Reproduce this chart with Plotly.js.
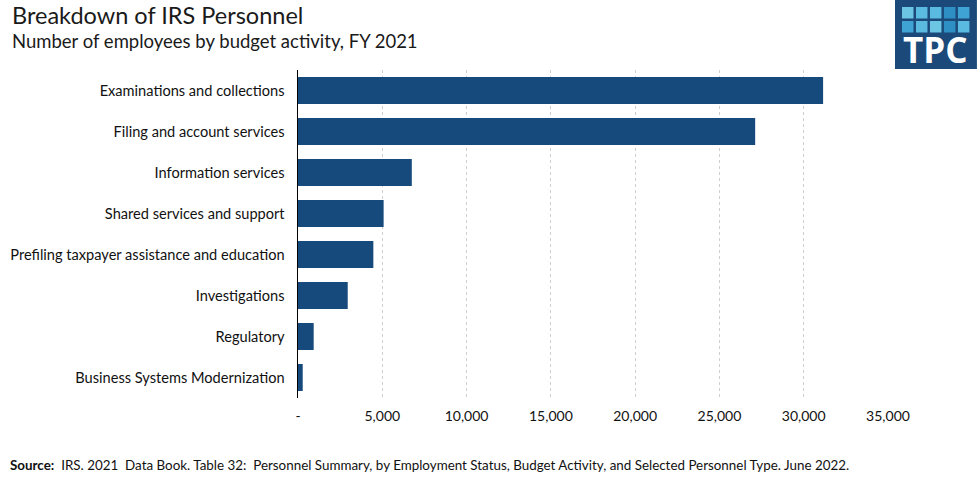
<!DOCTYPE html>
<html>
<head>
<meta charset="utf-8">
<script src="https://cdn.plot.ly/plotly-3.0.1.min.js"></script>
<style>
html,body{margin:0;padding:0;background:#fff;}
#chart{width:977px;height:480px;}
</style>
</head>
<body>
<div id="chart"></div>
<script>
// Data
var categories = [
  "Examinations and collections",
  "Filing and account services",
  "Information services",
  "Shared services and support",
  "Prefiling taxpayer assistance and education",
  "Investigations",
  "Regulatory",
  "Business Systems Modernization"
];
var employees = [31150, 27120, 6750, 5080, 4470, 2950, 930, 280];
var tickValues = [0, 5000, 10000, 15000, 20000, 25000, 30000, 35000];
var tickLabels = ["-", "5,000", "10,000", "15,000", "20,000", "25,000", "30,000", "35,000"];

var W = 977, H = 480;
var M = {l: 297.5, r: 89, t: 70, b: 82};
var PW = W - M.l - M.r, PH = H - M.t - M.b;
function px(x){ return (x - M.l) / PW; }
function py(y){ return 1 - (y - M.t) / PH; }

var font = "Lato, 'Open Sans', sans-serif";

var trace = {
  type: "bar",
  orientation: "h",
  y: categories,
  x: employees,
  marker: {color: "#174A7C"},
  hoverinfo: "x+y"
};

// Logo squares
var sqColors = [
  ["#6CC5E3","#5BBAE0","#5BBAE0","#2E8FC4","#3FA3D4"],
  ["#3FA3D4","#5BBAE0","#6CC5E3","#2E8FC4","#5BBAE0"]
];
var shapes = [];
shapes.push({type:"rect", xref:"paper", yref:"paper", x0:px(895), x1:px(977), y0:py(0), y1:py(69), fillcolor:"#1B4A7A", line:{width:0}, layer:"above"});
var colX = [902, 916, 930, 944, 958];
var rowY = [7, 21];
for (var r = 0; r < 2; r++) {
  for (var c = 0; c < 5; c++) {
    shapes.push({type:"rect", xref:"paper", yref:"paper",
      x0:px(colX[c]), x1:px(colX[c]+11.5), y0:py(rowY[r]), y1:py(rowY[r]+11.5),
      fillcolor:sqColors[r][c], line:{width:0}, layer:"above"});
  }
}

var annotations = [
  {xref:"paper", yref:"paper", x:px(9), y:py(15.5), xanchor:"left", yanchor:"middle",
   text:"Breakdown of IRS Personnel", showarrow:false,
   font:{family:font, size:23.5, color:"#1a1a1a"}},
  {xref:"paper", yref:"paper", x:px(9), y:py(41), xanchor:"left", yanchor:"middle",
   text:"Number of employees by budget activity, FY 2021", showarrow:false,
   font:{family:font, size:18.5, color:"#1a1a1a"}},
  {xref:"paper", yref:"paper", x:px(7), y:py(465), xanchor:"left", yanchor:"middle",
   text:"<b>Source:</b>  IRS. 2021  Data Book. Table 32:  Personnel Summary, by Employment Status, Budget Activity, and Selected Personnel Type. June 2022.",
   showarrow:false, font:{family:font, size:13.4, color:"#111"}},
  {xref:"paper", yref:"paper", x:px(936), y:py(50), xanchor:"center", yanchor:"middle",
   text:"<b>TPC</b>", showarrow:false,
   font:{family:"'Open Sans', Lato, sans-serif", size:35, color:"#ffffff"}}
];

var layout = {
  width: W, height: H,
  margin: M,
  paper_bgcolor: "#fff",
  plot_bgcolor: "#fff",
  showlegend: false,
  bargap: 0.34,
  xaxis: {
    range: [0, 35000],
    tickvals: tickValues,
    ticktext: tickLabels,
    showgrid: true,
    gridcolor: "#cfcfcf",
    griddash: "dot",
    gridwidth: 1,
    zeroline: false,
    showline: false,
    ticks: "",
    ticklabelstandoff: 8,
    tickfont: {family: font, size: 14, color: "#111"},
    fixedrange: true
  },
  yaxis: {
    autorange: "reversed",
    type: "category",
    showgrid: false,
    zeroline: false,
    showline: true,
    linecolor: "#000",
    linewidth: 1.5,
    ticks: "",
    ticklabelstandoff: 9,
    tickfont: {family: font, size: 14.6, color: "#111"},
    fixedrange: true
  },
  shapes: shapes,
  annotations: annotations
};

Plotly.newPlot("chart", [trace], layout, {displayModeBar: false, staticPlot: true});
</script>
</body>
</html>
